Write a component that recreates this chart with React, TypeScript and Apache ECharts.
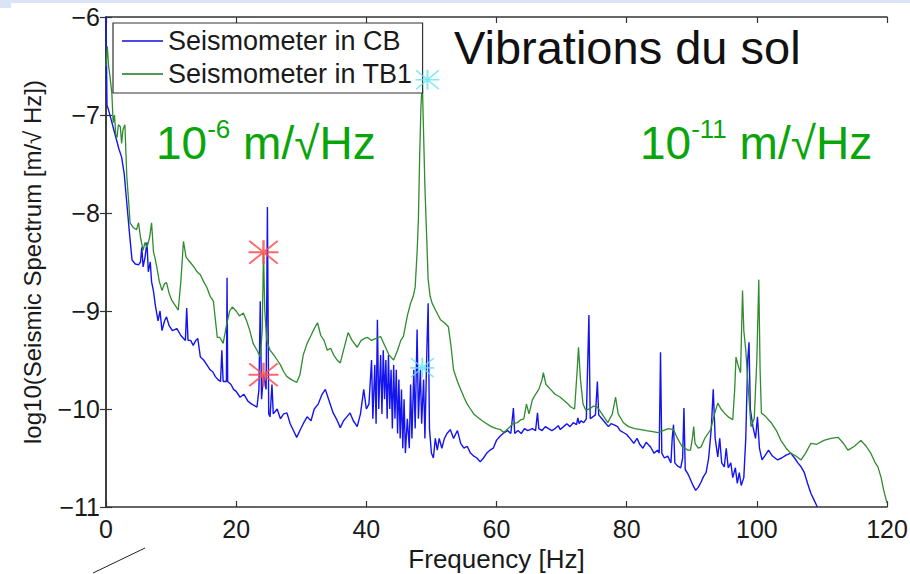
import React, { useEffect, useRef } from "react";
import * as echarts from "echarts";

// Frequency [Hz], log10 spectrum
const cbPoints: [number, number][] = [
  [0.0, -6.0], [0.15, -6.9], [0.4, -6.95], [0.8, -7.05], [1.2, -7.15], [1.6, -7.25], [2.0, -7.35], [2.4, -7.43],
  [2.8, -7.6], [3.2, -7.9], [3.6, -8.2], [4.0, -8.48], [4.5, -8.52], [5.0, -8.53], [5.3, -8.5], [5.5, -8.35],
  [5.7, -8.55], [6.0, -8.45], [6.3, -8.3], [6.5, -8.6], [6.8, -8.5], [7.0, -8.7], [7.3, -8.8], [7.6, -8.95],
  [8.0, -9.1], [8.3, -9.0], [8.6, -9.2], [9.0, -9.1], [9.3, -9.06], [9.7, -9.15], [10.2, -9.2], [10.9, -9.18],
  [11.5, -9.25], [12.2, -9.3], [12.4, -8.97], [12.6, -9.3], [13.0, -9.3], [13.4, -9.35], [13.8, -9.3], [14.1, -9.28],
  [14.5, -9.47], [15.0, -9.5], [15.5, -9.55], [16.0, -9.6], [16.4, -9.62], [16.8, -9.67], [17.2, -9.7], [17.6, -9.72],
  [17.8, -9.4], [18.0, -9.72], [18.5, -9.72], [18.6, -8.66], [18.7, -9.72], [19.2, -9.75], [19.6, -9.8], [20.0, -9.82],
  [20.6, -9.88], [21.2, -9.85], [21.8, -9.92], [22.4, -9.95], [23.2, -9.98], [23.5, -9.8], [23.7, -8.9], [23.9, -9.9],
  [24.2, -9.65], [24.6, -9.8], [24.8, -7.94], [25.0, -10.05], [25.2, -10.08], [25.5, -9.75], [25.7, -10.05], [26.3, -10.0],
  [26.8, -10.1], [27.3, -10.05], [27.8, -10.04], [28.3, -10.15], [28.8, -10.22], [29.3, -10.29], [29.8, -10.22], [30.3, -10.15],
  [30.9, -10.08], [31.5, -10.12], [32.0, -10.0], [32.6, -9.95], [33.2, -9.85], [33.7, -9.8], [34.2, -9.9], [34.9, -10.04],
  [35.4, -10.1], [36.0, -10.19], [36.5, -10.12], [37.0, -10.08], [37.5, -10.04], [38.0, -10.12], [38.6, -10.18], [39.1, -10.05],
  [39.6, -9.8], [40.0, -10.0], [40.4, -9.95], [40.8, -9.5], [41.0, -10.1], [41.3, -9.55], [41.5, -10.15], [41.7, -9.09],
  [41.9, -10.0], [42.2, -9.45], [42.4, -10.05], [42.6, -9.4], [42.8, -9.9], [43.0, -9.5], [43.2, -10.1], [43.4, -9.45],
  [43.6, -10.0], [43.8, -9.6], [44.0, -10.2], [44.2, -9.55], [44.4, -10.1], [44.6, -9.6], [44.8, -10.25], [45.0, -9.7],
  [45.2, -10.3], [45.4, -9.8], [45.6, -10.4], [45.8, -9.9], [46.0, -10.45], [46.3, -10.1], [46.6, -10.4], [46.8, -9.75],
  [47.0, -10.3], [47.3, -9.6], [47.5, -10.2], [47.8, -9.19], [48.0, -10.1], [48.3, -9.6], [48.5, -10.15], [48.8, -9.7],
  [49.0, -10.3], [49.3, -9.4], [49.5, -8.92], [49.7, -10.2], [50.0, -10.45], [50.3, -10.5], [50.6, -10.3], [50.9, -10.42],
  [51.2, -10.3], [51.6, -10.4], [52.0, -10.3], [52.4, -10.25], [52.9, -10.21], [53.4, -10.3], [54.0, -10.22], [54.5, -10.35],
  [55.0, -10.4], [55.5, -10.38], [56.0, -10.45], [56.5, -10.48], [57.0, -10.5], [57.5, -10.54], [58.0, -10.5], [58.5, -10.45],
  [59.0, -10.42], [59.5, -10.4], [60.0, -10.32], [60.5, -10.28], [61.0, -10.25], [61.7, -10.22], [62.2, -10.25], [62.6, -9.99],
  [62.8, -10.25], [63.3, -10.22], [63.8, -10.25], [64.3, -10.2], [64.8, -10.22], [65.5, -10.2], [66.0, -10.22], [66.3, -10.04],
  [66.5, -10.2], [67.0, -10.22], [67.5, -10.18], [68.0, -10.2], [68.5, -10.22], [69.0, -10.2], [69.5, -10.17], [69.8, -10.21],
  [70.3, -10.18], [70.8, -10.15], [71.3, -10.18], [71.8, -10.14], [72.3, -10.16], [72.5, -10.09], [72.7, -10.15], [73.0, -10.12],
  [73.4, -10.14], [73.8, -10.1], [74.2, -9.04], [74.4, -10.1], [74.8, -10.08], [75.2, -10.06], [75.5, -9.72], [75.7, -10.06],
  [76.2, -10.1], [76.7, -10.14], [77.2, -10.18], [77.6, -10.15], [78.0, -10.16], [78.6, -10.18], [79.0, -10.22], [79.5, -10.24],
  [80.0, -10.26], [80.5, -10.3], [81.1, -10.35], [81.6, -10.3], [82.0, -10.36], [82.5, -10.4], [83.0, -10.34], [83.7, -10.39],
  [84.2, -10.45], [84.8, -10.42], [85.0, -10.45], [85.2, -9.42], [85.4, -10.45], [85.8, -10.5], [86.3, -10.48], [86.8, -10.55],
  [87.0, -10.3], [87.2, -10.16], [87.4, -10.55], [87.8, -10.58], [88.3, -10.6], [88.6, -10.5], [88.8, -9.99], [89.0, -10.62],
  [89.4, -10.66], [89.8, -10.72], [90.2, -10.78], [90.6, -10.83], [91.0, -10.8], [91.4, -10.75], [91.8, -10.69], [92.2, -10.65],
  [92.6, -10.5], [93.0, -10.2], [93.3, -9.8], [93.6, -10.3], [94.0, -10.49], [94.3, -10.3], [94.6, -10.55], [95.0, -10.59],
  [95.3, -10.4], [95.6, -10.6], [96.0, -10.55], [96.3, -10.7], [96.7, -10.6], [97.0, -10.76], [97.3, -10.65], [97.6, -10.78],
  [98.0, -10.7], [98.3, -10.3], [98.6, -9.5], [98.8, -9.32], [99.0, -10.0], [99.4, -10.18], [99.8, -10.3], [100.1, -10.08],
  [100.4, -10.4], [100.8, -10.52], [101.2, -10.48], [101.8, -10.42], [102.4, -10.48], [103.2, -10.52], [103.8, -10.5], [104.5, -10.47],
  [105.2, -10.45], [105.8, -10.5], [106.3, -10.55], [106.8, -10.59], [107.3, -10.65], [107.8, -10.76], [108.3, -10.86], [108.8, -10.93],
  [109.3, -11.0],
];

const tb1Points: [number, number][] = [
  [0.0, -6.5], [0.2, -6.3], [0.4, -6.5], [0.6, -6.6], [0.9, -6.78], [1.1, -7.08], [1.3, -7.0], [1.5, -7.2],
  [1.7, -7.23], [1.9, -7.1], [2.2, -7.12], [2.4, -7.29], [2.6, -7.15], [2.9, -7.1], [3.2, -7.63], [3.5, -7.9],
  [3.7, -8.1], [4.2, -8.15], [4.7, -8.17], [5.0, -8.1], [5.3, -8.25], [5.7, -8.38], [6.0, -8.3], [6.3, -8.35],
  [6.7, -8.25], [7.0, -8.1], [7.3, -8.4], [7.5, -8.45], [7.8, -8.55], [8.2, -8.7], [8.6, -8.79], [9.0, -8.72],
  [9.3, -8.71], [9.7, -8.82], [10.1, -8.89], [10.5, -8.93], [11.1, -8.99], [11.5, -8.7], [11.9, -8.29], [12.3, -8.45],
  [12.9, -8.5], [13.5, -8.55], [14.0, -8.6], [14.5, -8.63], [15.0, -8.7], [15.5, -8.76], [16.0, -8.85], [16.5, -8.9],
  [17.1, -9.27], [17.5, -9.27], [18.0, -9.33], [18.5, -9.15], [19.0, -9.0], [19.4, -8.96], [20.0, -9.0], [20.5, -9.05],
  [21.1, -9.02], [21.6, -9.1], [22.1, -9.2], [22.6, -9.33], [23.2, -9.4], [23.7, -9.47], [24.0, -9.2], [24.2, -8.4],
  [24.4, -9.0], [24.7, -9.3], [25.2, -9.4], [25.8, -9.45], [26.3, -9.5], [26.8, -9.55], [27.3, -9.62], [27.8, -9.67],
  [28.5, -9.7], [29.3, -9.73], [29.8, -9.65], [30.3, -9.45], [30.9, -9.33], [31.5, -9.25], [32.0, -9.18], [32.5, -9.12],
  [33.0, -9.25], [33.5, -9.3], [34.0, -9.4], [34.5, -9.38], [35.0, -9.45], [35.5, -9.5], [36.0, -9.53], [36.5, -9.4],
  [37.2, -9.22], [37.8, -9.3], [38.6, -9.37], [39.2, -9.3], [39.7, -9.28], [40.2, -9.27], [40.8, -9.3], [41.5, -9.28],
  [42.2, -9.26], [42.8, -9.35], [43.5, -9.45], [44.2, -9.5], [44.8, -9.4], [45.3, -9.3], [45.7, -9.26], [46.3, -9.05],
  [46.8, -8.92], [47.2, -8.85], [47.5, -8.76], [47.8, -8.4], [48.0, -8.07], [48.2, -7.4], [48.4, -6.9], [48.6, -6.65],
  [48.8, -7.2], [49.0, -7.73], [49.3, -8.3], [49.5, -8.68], [49.8, -8.85], [50.1, -8.92], [50.7, -9.0], [51.4, -9.09],
  [52.0, -9.12], [52.6, -9.16], [53.0, -9.35], [53.4, -9.6], [54.0, -9.72], [54.5, -9.8], [55.0, -9.88], [55.5, -9.95],
  [56.0, -10.0], [56.5, -10.05], [57.0, -10.08], [57.8, -10.12], [58.5, -10.15], [59.2, -10.18], [60.0, -10.2], [60.6, -10.21],
  [61.1, -10.24], [61.8, -10.2], [62.5, -10.15], [63.2, -10.14], [63.7, -10.11], [64.2, -10.1], [64.6, -9.95], [65.0, -10.05],
  [65.5, -9.91], [66.0, -9.85], [66.5, -9.8], [67.0, -9.7], [67.2, -9.63], [67.6, -9.75], [68.3, -9.8], [69.0, -9.85],
  [69.8, -9.88], [70.5, -9.92], [71.0, -9.95], [71.4, -9.98], [72.0, -10.0], [72.4, -9.6], [72.6, -9.37], [72.9, -9.7],
  [73.3, -9.95], [73.7, -10.01], [74.3, -10.0], [74.9, -9.97], [75.5, -9.98], [76.2, -10.05], [77.1, -10.14], [77.8, -10.05],
  [78.3, -9.88], [78.7, -10.05], [79.5, -10.14], [80.3, -10.18], [81.2, -10.2], [82.2, -10.21], [83.0, -10.22], [84.0, -10.23],
  [84.8, -10.24], [85.6, -10.22], [86.4, -10.2], [87.2, -10.21], [87.8, -10.3], [88.5, -10.38], [89.0, -10.4], [89.4, -10.42],
  [89.8, -10.42], [90.1, -10.3], [90.3, -10.18], [90.5, -10.35], [91.0, -10.4], [91.4, -10.39], [92.0, -10.3], [92.5, -10.25],
  [92.9, -10.21], [93.5, -10.05], [94.0, -9.94], [94.5, -10.0], [95.0, -10.04], [95.6, -10.08], [96.3, -10.11], [96.6, -9.8],
  [96.8, -9.47], [97.1, -9.55], [97.5, -9.63], [97.8, -8.79], [98.0, -9.2], [98.3, -9.4], [98.7, -9.8], [99.1, -10.18],
  [99.6, -10.1], [100.0, -9.5], [100.3, -8.68], [100.5, -9.6], [100.7, -10.04], [101.4, -10.08], [102.2, -10.14], [103.0, -10.22],
  [103.7, -10.32], [104.5, -10.4], [105.2, -10.45], [106.0, -10.48], [106.8, -10.52], [107.5, -10.45], [108.3, -10.35], [109.2, -10.36],
  [110.3, -10.32], [111.4, -10.3], [112.5, -10.29], [113.3, -10.35], [114.0, -10.42], [115.0, -10.38], [116.0, -10.32], [116.8, -10.38],
  [117.5, -10.45], [118.2, -10.55], [118.6, -10.59], [119.1, -10.7], [119.5, -10.83], [120.0, -10.96],
];

const redStars: [number, number][] = [[24.2, -8.4], [24.2, -9.65]];
const cyanStars: [number, number][] = [[49.4, -6.64], [48.6, -9.58]];

const seriesNames = ["Seismometer in CB", "Seismometer in TB1"];
const xRange = { min: 0, max: 120, interval: 20 };
const yRange = { min: -11, max: -6, interval: 1 };

const FONT = "'Liberation Sans', Arial, Helvetica, sans-serif";
const STAR =
  "path://M0,46L100,46L100,54L0,54Z M46,0L54,0L54,100L46,100Z M5,0L100,95L95,100L0,5Z M95,0L100,5L5,100L0,95Z";

const fmt = (v: number) => String(v).replace("-", "\u2212");

const greenRich = {
  a: { fontSize: 46, fill: "#0aa50a", fontFamily: FONT, lineHeight: 50, verticalAlign: "bottom" },
  s: { fontSize: 26, fill: "#0aa50a", fontFamily: FONT, verticalAlign: "top", lineHeight: 50 },
};

export default function App() {
  const ref = useRef<HTMLDivElement>(null);
  useEffect(() => {
    if (!ref.current) return;
    const chart = echarts.init(ref.current, undefined, { renderer: "svg" });
    const axisLine = { show: true, lineStyle: { color: "#333", width: 1.5 } };
    const tick = { show: true, inside: true, length: 6, lineStyle: { color: "#333", width: 1.2 } };
    const label = { fontSize: 25, color: "#1a1a1a", fontFamily: FONT };
    chart.setOption({
      animation: false,
      backgroundColor: "#ffffff",
      grid: { left: 106, right: 23, top: 17, bottom: 67, containLabel: false, outerBoundsMode: "none" },
      xAxis: [
        {
          type: "value", ...xRange, position: "bottom",
          axisLine, axisTick: tick, splitLine: { show: false },
          axisLabel: { ...label, margin: 9, formatter: fmt },
          name: "Frequency [Hz]", nameLocation: "middle", nameGap: 33,
          nameTextStyle: { fontSize: 26, color: "#1a1a1a", fontFamily: FONT },
        },
        {
          type: "value", ...xRange, position: "top",
          axisLine, axisTick: tick, splitLine: { show: false }, axisLabel: { show: false },
        },
      ],
      yAxis: [
        {
          type: "value", ...yRange, position: "left",
          axisLine, axisTick: tick, splitLine: { show: false },
          axisLabel: { ...label, margin: 6, formatter: fmt },
          name: "log10(Seismic Spectrum [m/\u221A Hz])", nameLocation: "middle", nameGap: 62,
          nameTextStyle: { fontSize: 24, color: "#1a1a1a", fontFamily: FONT },
        },
        {
          type: "value", ...yRange, position: "right",
          axisLine, axisTick: tick, splitLine: { show: false }, axisLabel: { show: false },
        },
      ],
      legend: {
        data: seriesNames,
        orient: "vertical",
        left: 113, top: 23,
        padding: [3, 10, 4, 9],
        itemGap: 3,
        icon: "rect",
        itemWidth: 41, itemHeight: 2,
        backgroundColor: "#ffffff",
        borderColor: "#333", borderWidth: 1.2,
        textStyle: { fontSize: 27, color: "#1a1a1a", fontFamily: FONT, lineHeight: 30 },
      },
      graphic: [
        { type: "rect", shape: { x: 0, y: 0, width: 910, height: 3 }, style: { fill: "#dbe4f7" }, silent: true },
        { type: "rect", shape: { x: 0, y: 0, width: 11, height: 8 }, style: { fill: "#dbe4f7" }, silent: true },
        { type: "line", shape: { x1: 93, y1: 573, x2: 145, y2: 548 }, style: { stroke: "#222", lineWidth: 1 }, silent: true },
        {
          type: "text", left: 454, top: 24, z: 100,
          style: { text: "Vibrations du sol", fontSize: 47, fill: "#111", fontFamily: FONT },
        },
        {
          type: "text", left: 156, top: 116, z: 100,
          style: { text: "{a|10}{s|-6}{a| m/\u221AHz}", fill: "#0aa50a", fontFamily: FONT, rich: greenRich },
        },
        {
          type: "text", left: 640, top: 116, z: 100,
          style: { text: "{a|10}{s|-11}{a| m/\u221AHz}", fill: "#0aa50a", fontFamily: FONT, rich: greenRich },
        },
      ],
      series: [
        {
          name: seriesNames[0], type: "line", data: cbPoints, symbol: "none",
          lineStyle: { color: "#1414f0", width: 1.4 }, itemStyle: { color: "#4a4ae0" }, z: 2,
        },
        {
          name: seriesNames[1], type: "line", data: tb1Points, symbol: "none",
          lineStyle: { color: "#2e8b2e", width: 1.3 }, itemStyle: { color: "#4f9a4f" }, z: 3,
        },
        {
          name: "markers-red", type: "scatter", data: redStars, symbol: STAR, symbolSize: [30, 24],
          itemStyle: { color: "#ff4d4d", opacity: 0.85 }, z: 5,
        },
        {
          name: "markers-cyan", type: "scatter", data: cyanStars, symbol: STAR, symbolSize: [24, 20],
          itemStyle: { color: "#5fe3f5", opacity: 0.8 }, z: 5,
        },
      ],
    });
    return () => chart.dispose();
  }, []);
  return (
    <div
      ref={ref}
      style={{ position: "fixed", left: 0, top: 0, width: 910, height: 574, background: "#fff" }}
    />
  );
}
